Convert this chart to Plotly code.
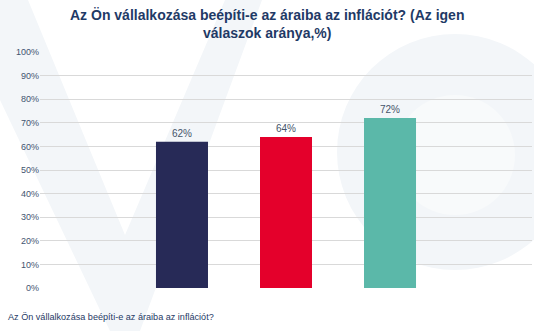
import plotly.graph_objects as go

series_names = ["Sorozat 1", "Sorozat 2", "Sorozat 3"]
values = [62, 64, 72]
colors = ["#272A57", "#E4002B", "#5BB8A9"]
positions = [-1, 0, 1]
y_ticks = list(range(0, 101, 10))
y_tick_labels = [f"{v}%" for v in y_ticks]
title_text = "Az Ön vállalkozása beépíti-e az áraiba az inflációt? (Az igen<br>válaszok aránya,%)"
category_label = "Az Ön vállalkozása beépíti-e az áraiba az inflációt?"

FONT = "Liberation Sans, Arial"
L, R, T, B = 40, 2, 52, 43
W, H = 534, 331
PW, PH = W - L - R, H - T - B


def px(x):
    return (x - L) / PW


def py(y):
    return (H - B - y) / PH


fig = go.Figure()
for name, v, c, p in zip(series_names, values, colors, positions):
    fig.add_trace(go.Bar(
        x=[p], y=[v], name=name, width=0.5,
        marker=dict(color=c, line=dict(width=0)),
        text=[f"{v}%"], textposition="outside",
        textfont=dict(family=FONT, size=10, color="#44546A"),
        cliponaxis=False,
    ))

tint = "#F3F6F9"
shapes = [
    # faint watermark: circle on the right
    dict(type="circle", xref="paper", yref="paper", layer="below",
         x0=px(337), x1=px(573), y0=py(270), y1=py(34),
         fillcolor=tint, line=dict(width=0)),
    dict(type="circle", xref="paper", yref="paper", layer="below",
         x0=px(395), x1=px(515), y0=py(215), y1=py(95),
         fillcolor="#F8FAFB", line=dict(width=0)),
    # faint watermark: V on the left
    dict(type="path", xref="paper", yref="paper", layer="below",
         path=(f"M {px(0)},{py(0)} L {px(28)},{py(0)} L {px(125)},{py(235)} "
               f"L {px(225)},{py(0)} L {px(262)},{py(0)} L {px(140)},{py(331)} "
               f"L {px(110)},{py(331)} L {px(0)},{py(100)} Z"),
         fillcolor=tint, line=dict(width=0)),
]

fig.update_layout(
    width=W, height=H,
    margin=dict(l=L, r=R, t=T, b=B),
    paper_bgcolor="white", plot_bgcolor="rgba(0,0,0,0)",
    showlegend=False,
    font=dict(family=FONT, color="#44546A"),
    xaxis=dict(range=[-2.365, 2.365], showticklabels=False, showgrid=False, zeroline=False,
               showline=False, fixedrange=True),
    yaxis=dict(range=[0, 100], tickvals=y_ticks, ticktext=y_tick_labels,
               showgrid=True, gridcolor="#D9D9D9", gridwidth=1, zeroline=False,
               showline=False, ticks="", ticklen=0,
               tickfont=dict(family=FONT, size=9, color="#3F5470")),
    shapes=shapes,
)
fig.add_annotation(text=title_text, xref="paper", yref="paper",
                   x=px(267), y=py(24), xanchor="center", yanchor="middle", showarrow=False,
                   font=dict(family=FONT, size=14, color="#1F3A66", weight="bold"))
fig.add_annotation(text=category_label, xref="paper", yref="paper",
                   x=px(6), y=py(317), xanchor="left", yanchor="middle", showarrow=False,
                   font=dict(family=FONT, size=9.1, color="#1F3A66"))

fig.write_html("out.html")
